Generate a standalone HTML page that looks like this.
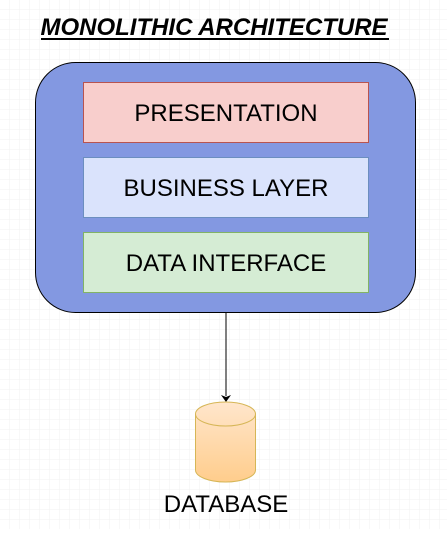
<!DOCTYPE html>
<html><head><style>
body{margin:0;width:447px;height:529px;overflow:hidden;background:#fff;}
</style></head><body>
<svg width="447" height="529" xmlns="http://www.w3.org/2000/svg" font-family="Liberation Sans, sans-serif">
<defs>
<pattern id="minor" width="10" height="10" patternUnits="userSpaceOnUse" x="0" y="0">
<path d="M10 0V10H0" fill="none" stroke="#f2f2f2" stroke-width="1"/>
</pattern>
<pattern id="major" width="40" height="40" patternUnits="userSpaceOnUse" x="0" y="0">
<rect width="40" height="40" fill="url(#minor)"/>
<path d="M40.5 0V40M0 40.5H40" fill="none" stroke="#e2e2e2" stroke-width="1"/>
</pattern>
<linearGradient id="cyl" x1="0" y1="0" x2="0" y2="1">
<stop offset="0" stop-color="#ffe6cc"/><stop offset="1" stop-color="#ffcd8c"/>
</linearGradient>
</defs>
<rect width="447" height="529" fill="url(#major)"/>
<text x="214" y="35" text-anchor="middle" font-size="24" font-weight="bold" font-style="italic" fill="#000">MONOLITHIC ARCHITECTURE</text>
<rect x="41" y="38" width="348" height="2" fill="#000"/>
<rect x="35.5" y="62.5" width="380" height="250" rx="40" fill="#8398e1" stroke="#000" stroke-width="1"/>
<rect x="83.5" y="82.5" width="285" height="60" fill="#f8cecc" stroke="#b85450"/>
<text x="226" y="121" text-anchor="middle" font-size="24">PRESENTATION</text>
<rect x="83.5" y="157.5" width="285" height="60" fill="#dae3fc" stroke="#6c8ebf"/>
<text x="226" y="196" text-anchor="middle" font-size="24">BUSINESS LAYER</text>
<rect x="83.5" y="232.5" width="285" height="60" fill="#d5ecd4" stroke="#82b366"/>
<text x="226" y="271" text-anchor="middle" font-size="24">DATA INTERFACE</text>
<line x1="226" y1="313" x2="226" y2="396" stroke="#000" stroke-width="1"/>
<path d="M221 395L226 402L231 395L226 397Z" fill="#000"/>
<path d="M195.5 414V470A30 12 0 0 0 255.5 470V414A30 12 0 0 0 195.5 414Z" fill="url(#cyl)" stroke="#d6b656"/>
<path d="M195.5 414A30 12 0 0 0 255.5 414" fill="none" stroke="#d6b656"/>
<text x="226" y="512" text-anchor="middle" font-size="24">DATABASE</text>
</svg>
</body></html>
